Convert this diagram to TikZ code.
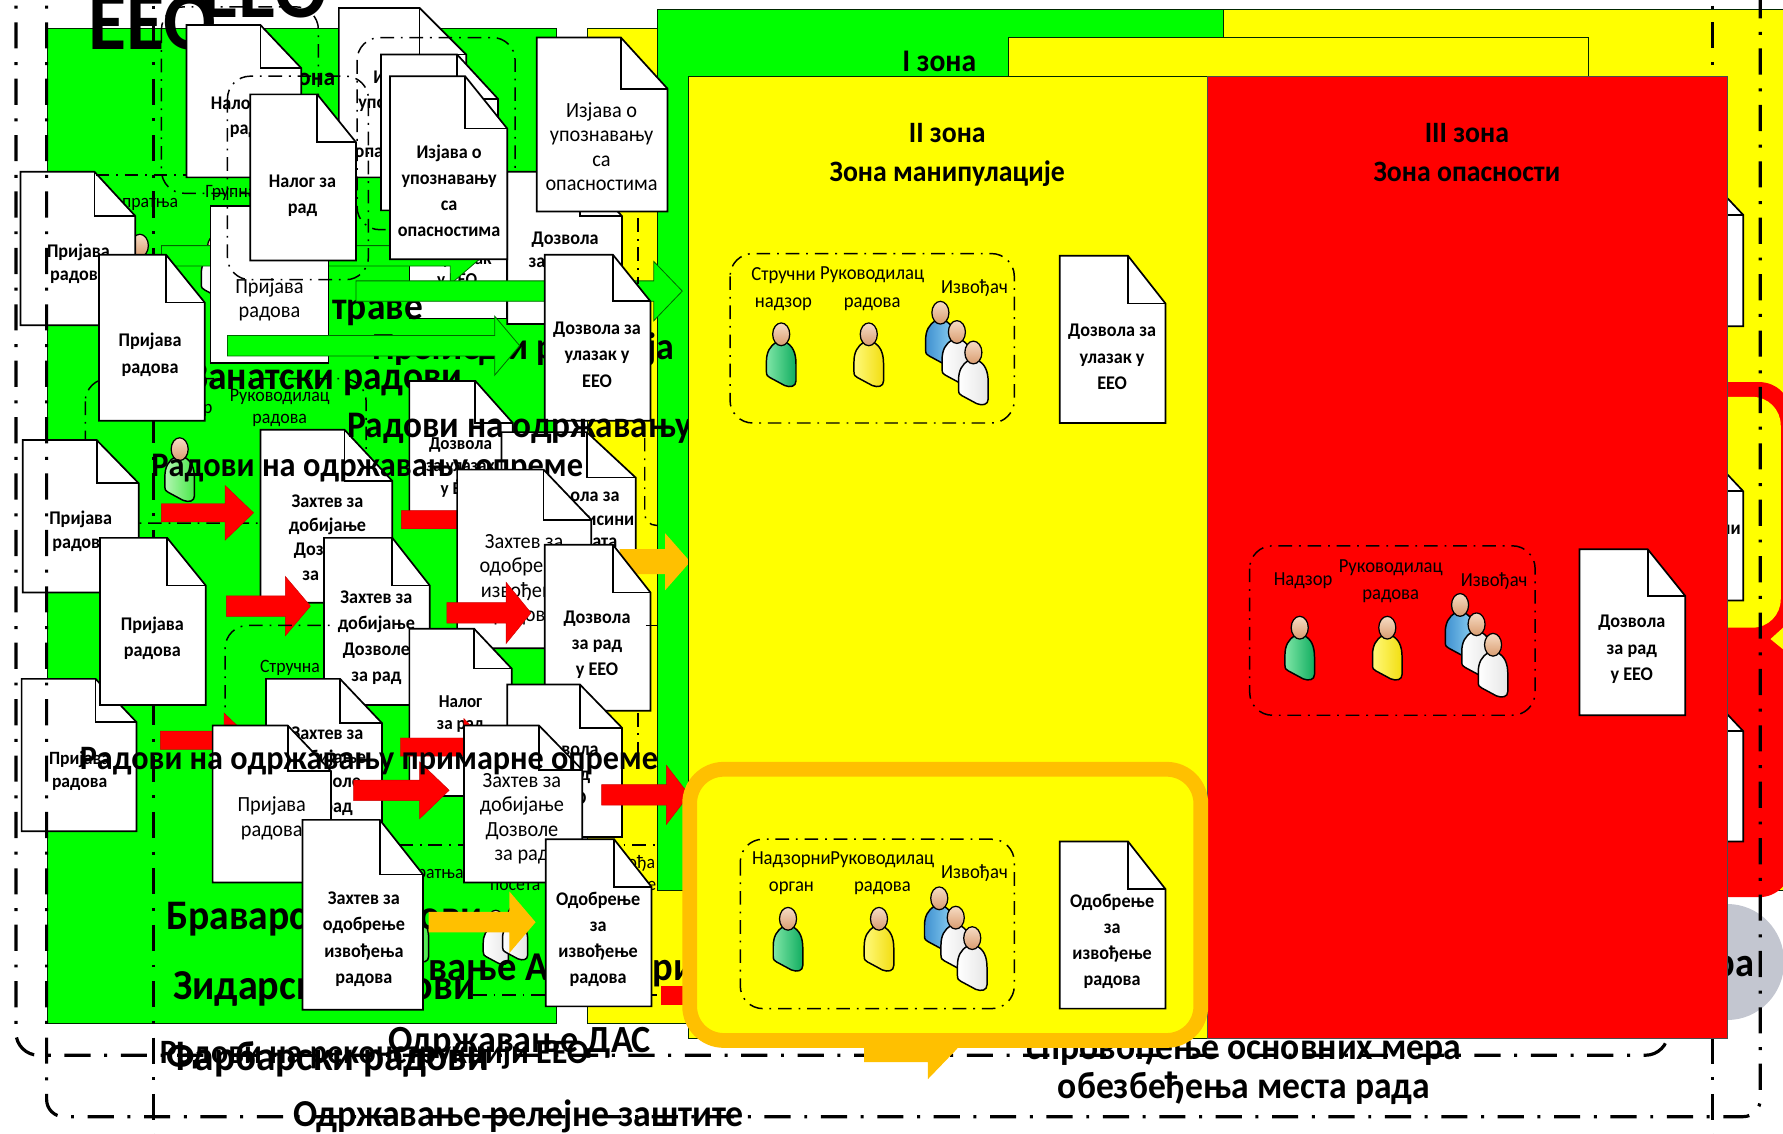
\documentclass[tikz,border=0pt]{standalone}
\usepackage{fontspec}
\setmainfont{Carlito}[FakeStretch=0.94]
\definecolor{zg}{HTML}{00FF00}
\definecolor{zy}{HTML}{FFFF00}
\definecolor{zr}{HTML}{FF0000}
\definecolor{amb}{HTML}{FFC000}
\definecolor{gry}{HTML}{C3C6D0}
\definecolor{skinl}{HTML}{F6DCC4}
\definecolor{skind}{HTML}{D99C70}
\definecolor{pgl}{HTML}{7FE6A6}
\definecolor{pgd}{HTML}{10AD60}
\definecolor{pyl}{HTML}{FFF97A}
\definecolor{pyd}{HTML}{F2DE10}
\definecolor{pbl}{HTML}{3F90D0}
\definecolor{pbd}{HTML}{8ED2F2}
\definecolor{pfl}{HTML}{B4F5B4}
\definecolor{pfd}{HTML}{48E848}
\tikzset{
  docline/.style={draw=black,fill=white,line width=1.5pt,line join=miter},
  zone/.style={draw=black!70!green!50!black,line width=0.7pt},
  frameline/.style={draw=black,line width=2.8pt,dash pattern=on 23pt off 12pt on 2.6pt off 12pt},
  grp/.style={draw=black,line width=1.3pt,dash pattern=on 12pt off 6pt on 1.6pt off 6pt,rounded corners=20pt},
  garrow/.style={fill=zg,draw=black!60!green,line width=0.7pt},
  rarrow/.style={fill=zr,draw=zr!80!black,line width=0.4pt},
  aarrow/.style={fill=amb},
}
\newcommand\docshape[6]{%
  \draw[docline] (#1,#2) -- (#5,#2) -- (#3,#6) -- (#3,#4) -- (#1,#4) -- cycle;
  \draw[docline,fill=none] (#5,#2) -- (#5,#6) -- (#3,#6);}
\newcommand\treg[5]{\node[align=center,inner sep=0pt,font=\fontsize{#3}{#4}\selectfont] at (#1,#2) {#5};}
\newcommand\tbld[5]{\node[align=center,inner sep=0pt,font=\fontsize{#3}{#4}\selectfont\bfseries] at (#1,#2) {#5};}
\newcommand\tleft[4]{\node[anchor=west,inner sep=0pt,font=\fontsize{#3}{#3}\selectfont\bfseries] at (#1,#2) {#4};}
\newcommand\tright[4]{\node[anchor=east,inner sep=0pt,font=\fontsize{#3}{#3}\selectfont\bfseries] at (#1,#2) {#4};}
% x1, base x, tip x, y centre, half shaft, half head, style
\newcommand\barrow[7]{\path[#7] (#1,#4-#5) -- (#2,#4-#5) -- (#2,#4-#6) -- (#3,#4) -- (#2,#4+#6) -- (#2,#4+#5) -- (#1,#4+#5) -- cycle;}
% x, y, scale, light, dark
\newcommand\person[5]{%
  \begin{scope}[shift={(#1,#2)},scale=#3]
    \draw[line width=1.3pt,left color=#4,right color=#5] (-4,7) .. controls (-10,10) and (-13,16) .. (-13,24) -- (-13,33) .. controls (-13,36) and (-12,37) .. (-10,38) -- (3,45) .. controls (8,47) and (13,46) .. (13,41) -- (13,26) .. controls (13,16) and (10,10) .. (4,7) -- cycle;
    \draw[line width=1.1pt,top color=skinl,bottom color=skind] (0,0) ellipse (7.5 and 10);
  \end{scope}}
\newcommand\pgreen[2]{\person{#1}{#2}{1}{pgl}{pgd}}
\newcommand\pfaint[2]{\person{#1}{#2}{1}{pfl}{pfd}}
\newcommand\pyellow[2]{\person{#1}{#2}{1}{pyl}{pyd}}
\newcommand\pblue[2]{\person{#1}{#2}{1}{pbl}{pbd}}
\newcommand\pwhite[2]{\person{#1}{#2}{1}{white}{black!10}}
\newcommand\crowd[2]{\pblue{#1}{#2}\pwhite{\fpeval{#1+14.5}}{\fpeval{#2+17}}\pwhite{\fpeval{#1+29}}{\fpeval{#2+35}}}
\begin{document}
\begin{tikzpicture}[x=1pt,y=-1pt]
\useasboundingbox (0,0) rectangle (1568,997.2);
\clip (0,0) rectangle (1568,997.2);
\fill[white] (0,0) rectangle (1568,997.2);
% background zones
\fill[gry] (1519,846) ellipse (50 and 51);
\draw[zone,fill=zg] (42,25) rectangle (489,900);
\draw[zone,fill=zy] (517,25) rectangle (1062,900);
\draw[zone,fill=zy] (1076,8) rectangle (1600,783);
\draw[zone,fill=zg] (578,8) rectangle (1076,783);
\draw[zone,fill=zy] (887,33) rectangle (1397,80);
\tbld{826}{54}{27.7}{30}{I зона}
% right callout and documents
\fill[zr,rounded corners=28pt] (1400,336) rectangle (1575,789);
\fill[zy,rounded corners=25pt] (1400,349) rectangle (1566,552);
\fill[zy] (1568,552) -- (1557,562) -- (1568,571) -- cycle;
\docshape{1440}{154}{1533}{287}{1500}{189}
\docshape{1440}{397}{1533}{528}{1500}{432}
\tright{1531}{466}{17}{ни}
\docshape{1440}{608}{1533}{740}{1500}{643}
\tright{1543}{853}{36}{ра}
% big background titles
\tbld{134}{20}{73}{73}{EEO}
\tbld{232}{-8}{73}{73}{EEO}
\tright{295}{70}{22}{зона}
% green labels
\treg{132}{180}{16.6}{16}{пратња}
\treg{203}{170}{16.6}{16}{Групна}
\tright{187}{360}{16.6}{\mdseries Надзор}
\treg{246}{359}{16.8}{19}{Руководилац\\радова}
\treg{255}{587}{16.6}{16}{Стручна}
\treg{383}{770}{16.6}{16}{пратња}
\treg{453}{779}{16.6}{16}{посета}
\treg{552}{759}{16.6}{16}{Извођа}
\treg{569}{780}{16.6}{16}{ре}
\draw[grp] (75,333) rectangle (322,460);
% people hidden among the documents
\pgreen{123}{216}
\pfaint{158}{395}
\pfaint{364}{800}
\person{436}{809}{0.85}{white}{black!10}
\person{453}{805}{0.85}{white}{black!10}
% first documents under the frames
\docshape{18}{151}{119}{286}{83}{190}
\tbld{69}{232}{17}{21}{Пријава\\радова}
\docshape{20}{387}{122}{521}{85}{425}
\tbld{71}{467}{17}{21}{Пријава\\радова}
\docshape{19}{597}{120}{731}{84}{635}
\tbld{70}{678}{16.5}{20}{Пријава\\радова}
% frames
\draw[frameline,rounded corners=20pt] (14,-30) -- (14,928) -- (1467,928) -- (1467,900);
\draw[frameline,rounded corners=15pt] (41,-30) -- (41,982) -- (1548,982) -- (1548,-30);
\draw[frameline] (135,-30) -- (135,1030);
\draw[frameline] (1506,-30) -- (1506,1030);
% texts below the frames
\tbld{1094}{940}{33.3}{34}{спровођење основних мера\\обезбеђења места рада}
\tbld{329}{927}{30}{30}{Радови на реконструкцији ЕЕО}
\tbld{288}{932}{36.8}{36}{Фарбарски радови}
\tbld{457}{917}{33.8}{34}{Одржавање ДАС}
\tbld{456}{982}{33.5}{34}{Одржавање релејне заштите}
% upper-left stack
\docshape{164}{22}{265}{156}{229}{60}
\tbld{215}{103}{17}{22}{Налог за\\рад}
\docshape{298}{7}{410}{156}{369}{48}
\tbld{357}{100}{17}{21.5}{Изјава о\\упознавању\\са\\опасностима}
\draw[grp] (314,33) rectangle (453,202);
\docshape{335}{48}{438}{185}{402}{87}
\docshape{360}{150}{446}{280}{446}{150}
\tbld{402}{239}{16}{18}{за улазак\\у ЕЕО}
\docshape{446}{151}{547}{285}{510}{190}
\tbld{497}{221}{17}{21}{Дозвола\\за улазак}
\pwhite{190}{217}
\barrow{142}{396}{425}{225}{9}{25}{garrow}
\tright{372}{275}{35}{траве}
\docshape{185}{181}{289}{319}{289}{181}
\treg{237}{264}{19}{21}{Пријава\\радова}
\draw[grp] (142,6) rectangle (280,170);
\draw[grp] (200,67) rectangle (324,246);
\draw[grp,rounded corners=0pt] (84,154) -- (164,154);
\barrow{313}{575}{600}{256}{9}{26}{garrow}
\tleft{327}{307}{33.6}{Преглед и ревизија}
\barrow{200}{435}{457}{304}{9}{26}{garrow}
\docshape{220}{83}{313}{229}{279}{125}
\tbld{266}{172}{17}{23}{Налог за\\рад}
\docshape{343}{67}{446}{228}{409}{113}
\tbld{395}{168}{17}{23}{Изјава о\\упознавању\\са\\опасностима}
\docshape{472}{33}{587}{186}{546}{78}
\treg{529}{129}{19}{21.5}{Изјава о\\упознавању\\са\\опасностима}
\docshape{479}{224}{572}{370}{539}{265}
\tbld{525}{312}{17}{23}{Дозвола за\\улазак у\\ЕЕО}
% left column
\tright{407}{334}{35}{Занатски радови}
\docshape{87}{224}{180}{370}{146}{266}
\tbld{132}{312}{17}{23}{Пријава\\радова}
% middle, red rows
\docshape{360}{335}{451}{450}{418}{372}
\tbld{405}{411}{16}{20}{Дозвола\\за улазак\\у ЕЕО}
\docshape{441}{380}{559}{520}{516}{420}
\tright{545}{437}{17}{ола за}
\tright{558}{458}{17}{висини}
\tright{543}{479}{17}{рата}
\docshape{229}{378}{345}{530}{303}{423}
\tbld{288}{474}{17}{21.5}{Захтев за\\добијање\\Дозволе\\за рад}
\barrow{142}{198}{223}{451}{8}{24}{rarrow}
\barrow{353}{430}{455}{457}{8}{24}{rarrow}
\tleft{305}{377}{33}{Радови на одржавању}
\tleft{133}{412}{30.3}{Радови на одржавању опреме}
\docshape{402}{413}{520}{570}{478}{457}
\treg{461}{510}{19}{21.5}{Захтев за\\одобрење\\извођења\\радова}
\barrow{545}{585}{607}{494}{11}{25}{aarrow}
\docshape{88}{473}{181}{620}{147}{515}
\tbld{134}{561}{17}{23}{Пријава\\радова}
\barrow{199}{251}{273}{533}{9}{26}{rarrow}
\docshape{285}{473}{378}{620}{345}{515}
\tbld{331}{561}{17}{23}{Захтев за\\добијање\\Дозволе\\за рад}
\barrow{393}{445}{467}{539}{9}{27}{rarrow}
\docshape{479}{479}{572}{625}{539}{521}
\tbld{525}{567}{17}{23}{Дозвола\\за рад\\у ЕЕО}
% grouped frame lower left
\draw[grp,rounded corners=20pt] (198,640) -- (198,550) -- (290,550);
\draw[grp,rounded corners=0pt] (300,743) -- (578,743);
\draw[grp,rounded corners=0pt] (416,875) -- (578,875);
\draw[grp,rounded corners=0pt] (561,192) -- (561,250);
\draw[grp,rounded corners=10pt] (567,385) -- (567,462) -- (578,462);
\draw[grp,rounded corners=0pt] (561,627) -- (561,672);
\draw[grp,rounded corners=0pt] (568,550) -- (578,550);
% lower rows
\docshape{360}{553}{450}{700}{417}{588}
\tbld{405}{628}{16}{20}{Налог\\за рад}
\docshape{234}{597}{336}{735}{299}{636}
\tbld{288}{678}{17}{21.5}{Захтев за\\добијање\\Дозволе\\за рад}
\barrow{141}{197}{222}{651}{8}{24}{rarrow}
\barrow{352}{408}{432}{657}{8}{25}{rarrow}
\docshape{446}{602}{547}{736}{510}{640}
\tbld{497}{682}{17}{21.5}{Дозвола\\за рад\\у ЕЕО}
\docshape{187}{638}{291}{776}{253}{678}
\treg{239}{720}{19}{22}{Пријава\\радова}
\barrow{311}{369}{395}{695}{9}{25}{rarrow}
\docshape{408}{638}{512}{776}{474}{677}
\treg{459}{720}{19}{21.5}{Захтев за\\добијање\\Дозволе\\за рад}
\barrow{529}{586}{606}{699}{9}{26}{rarrow}
\tleft{70}{669}{30.1}{Радови на одржавању примарне опреме}
\tleft{146}{808}{37}{Браварски радови}
\tleft{152}{870}{37.5}{Зидарски радови}
\tleft{377}{853}{36}{вање АБ батерија}
\fill[zr] (581,867) rectangle (606,884);
\docshape{266}{721}{372}{888}{334}{769}
\tbld{320}{826}{17}{23}{Захтев за\\одобрење\\извођења\\радова}
\barrow{377}{448}{471}{811}{9}{27}{aarrow}
\docshape{480}{738}{573}{885}{540}{780}
\tbld{526}{826}{17}{23}{Одобрење\\за\\извођење\\радова}
% main zones
\draw[zone,fill=zy] (605,67) rectangle (1062,913);
\draw[zone,draw=black!70,fill=zr] (1062,67) rectangle (1519,913);
\tbld{833}{136.5}{26}{34}{II зона\\Зона манипулације}
\tbld{1290}{134}{26}{34}{III зона\\Зона опасности}
% zone II group
\draw[grp] (642,223) rectangle (892,372);
\treg{689}{254}{17.5}{24}{Стручни\\надзор}
\treg{767}{254}{17.5}{24}{Руководилац\\радова}
\treg{857}{253}{17.5}{20}{Извођач}
\pgreen{687}{294}
\pyellow{764}{294}
\crowd{827}{275}
\docshape{932}{225}{1025}{372}{992}{267}
\tbld{978}{314}{17}{23.5}{Дозвола за\\улазак у\\ЕЕО}
% amber callout
\fill[amb] (760,910) -- (760,934) -- (816,934) -- (816,949) -- (842,922) -- (842,910) -- cycle;
\draw[line width=13pt,draw=amb,fill=zy,rounded corners=30pt] (606.5,676.5) rectangle (1056,915);
\draw[grp] (651,738) rectangle (892,887);
\treg{696}{768}{17.5}{24}{Надзорни\\орган}
\treg{776}{768}{17.5}{24}{Руководилац\\радова}
\treg{857}{768}{17.5}{20}{Извођач}
\pgreen{693}{808}
\pyellow{773}{808}
\crowd{826}{790}
\docshape{932}{740}{1025}{887}{992}{782}
\tbld{978}{828}{17}{23}{Одобрење\\за\\извођење\\радова}
% zone III group
\draw[grp] (1099,480) rectangle (1350,629);
\treg{1146}{511}{17.5}{20}{Надзор}
\treg{1223}{511}{17.5}{24}{Руководилац\\радова}
\treg{1314}{511}{17.5}{20}{Извођач}
\pgreen{1143}{552}
\pyellow{1220}{552}
\crowd{1284}{532}
\docshape{1389}{483}{1482}{629}{1449}{524}
\tbld{1435}{571}{17}{23}{Дозвола\\за рад\\у ЕЕО}
\end{tikzpicture}
\end{document}
